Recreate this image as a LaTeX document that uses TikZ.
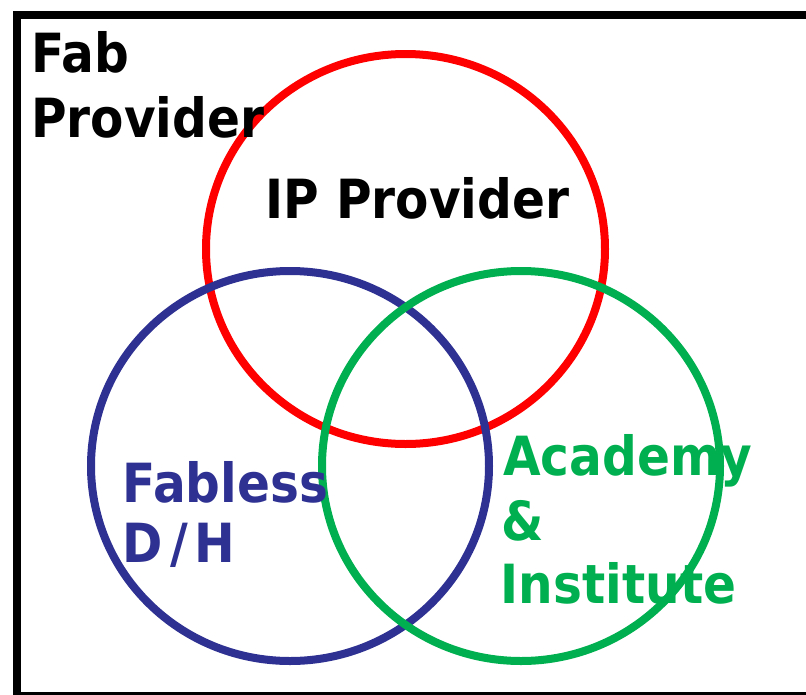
\documentclass[tikz,border=0pt]{standalone}
\usepackage{fontspec}
\setmainfont{DejaVu Sans}[BoldFont={DejaVu Sans Bold},BoldFeatures={FakeStretch=0.9}]
\definecolor{ipred}{RGB}{255,0,0}
\definecolor{fbblue}{RGB}{46,49,146}
\definecolor{acgreen}{RGB}{0,176,80}
\begin{document}
\begin{tikzpicture}[x=1pt,y=-1pt,
  lbl/.style={anchor=base west,inner sep=0pt,font=\fontsize{54}{60}\selectfont\bfseries},
  ring/.style={line width=8pt}]
\useasboundingbox (0,0) rectangle (806,694);
\node[draw=black,line width=8pt,minimum width=802pt,minimum height=681pt,inner sep=0pt,anchor=north west] (frame) at (13,11) {};
\draw[ring,ipred] (405.5,249) ellipse [x radius=199.5,y radius=195];
\draw[ring,fbblue] (290,466) ellipse [x radius=199,y radius=195];
\draw[ring,acgreen] (521,466) ellipse [x radius=199,y radius=195];
\node[lbl] (fab1) at (31,72) {Fab};
\node[lbl] (fab2) at (31,137) {Provider};
\node[lbl] (ip) at (265.5,218) {IP Provider};
\node[lbl,text=fbblue] (fl1) at (122.5,502) {Fabless};
\node[lbl,text=fbblue] (fl2) at (122.5,562) {D\kern7pt/\kern7pt H};
\node[lbl,text=acgreen] (ac1) at (503,475) {Academy};
\node[lbl,text=acgreen] (ac2) at (501,540) {\&};
\node[lbl,text=acgreen] (ac3) at (500.5,603) {Institute};
\end{tikzpicture}
\end{document}
